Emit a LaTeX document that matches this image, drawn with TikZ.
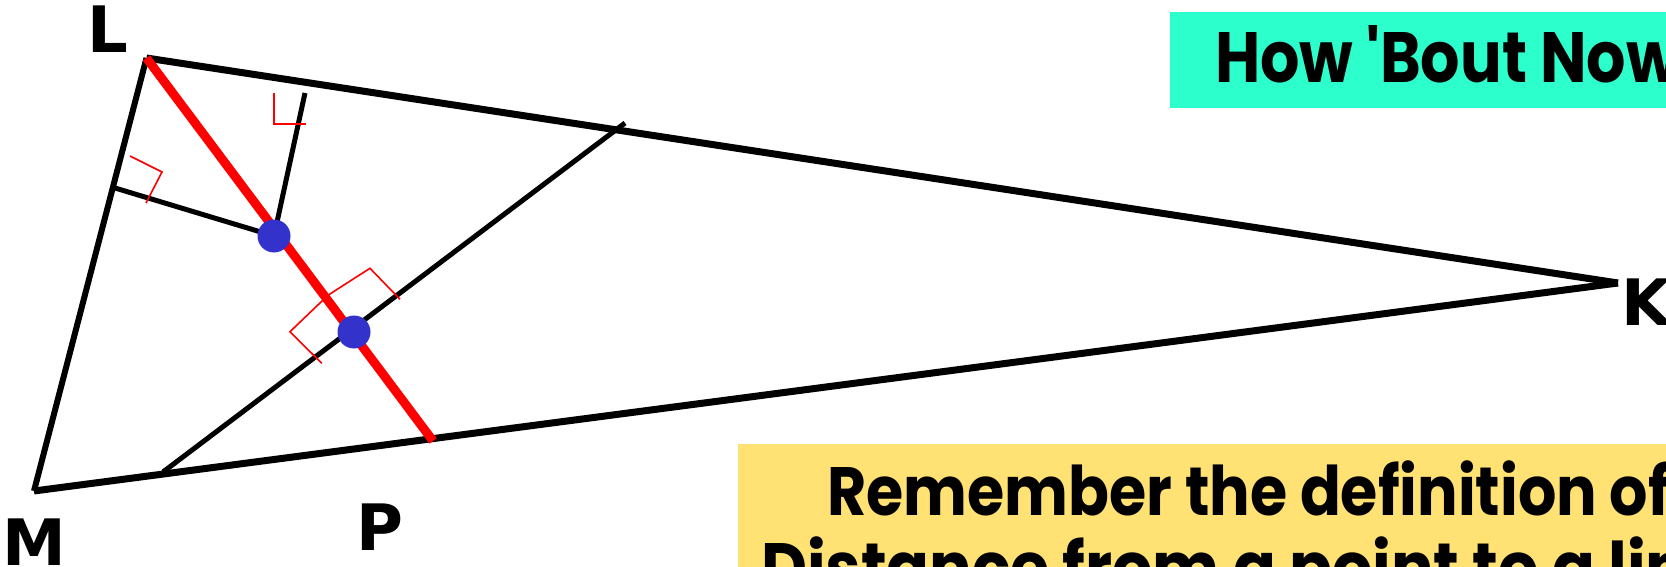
\documentclass[tikz,border=0pt]{standalone}
\usepackage{fontspec}
\usepackage{graphicx}
\newfontfamily\labelfam{DejaVu Sans}
\newfontfamily\comicfam{Poppins}
\definecolor{boxteal}{RGB}{45,255,204}
\definecolor{boxyellow}{RGB}{255,226,115}
\definecolor{dotblue}{RGB}{51,51,204}
\newlength\fitW
\newlength\fitH
% #1 font, #2 prefix, #3 full text, #4 prefix width (px), #5 cap height (px)
\newcommand\fittext[5]{%
  \settowidth\fitW{#1#2}\settoheight\fitH{#1H}%
  \pgfmathsetmacro\fitsx{#4/\fitW}\pgfmathsetmacro\fitsy{#5/\fitH}%
  \scalebox{\fitsx}[\fitsy]{#1#3}}
\newcommand\comicA{\comicfam\bfseries\fontsize{60}{60}\selectfont}
\tikzset{
  sideline/.style={line width=7pt, black},
  auxline/.style={line width=5pt, black},
  redline/.style={line width=9pt, red},
  rightmark/.style={line width=1.6pt, red},
  bluedot/.style={fill=dotblue},
  vlabel/.style={inner sep=0pt, anchor=base, font=\labelfam\bfseries\fontsize{64}{64}\selectfont},
  textline/.style={inner sep=0pt, anchor=base west}
}
\begin{document}
\begin{tikzpicture}[x=1pt, y=-1pt]
\useasboundingbox (0,0) rectangle (1666,567);
\clip (0,0) rectangle (1666,567);
% vertices and points
\coordinate (L) at (146.5,58);
\coordinate (M) at (34,491);
\coordinate (K) at (1618,283);
\coordinate (F) at (433,441);
\coordinate (A) at (115,188);
\coordinate (B) at (305,93);
\coordinate (C) at (163,472);
\coordinate (D) at (625,123);
\coordinate (O1) at (274,236);
\coordinate (O2) at (354,332);
% triangle sides
\draw[sideline] (L) -- (K);
\draw[sideline, line width=6pt] (L) -- (M);
\draw[sideline] (M) -- (K);
% auxiliary lines
\draw[auxline] (A) -- (O1);
\draw[auxline] (O1) -- (B);
\draw[auxline] (C) -- (D);
% red line
\draw[redline] (L) -- (F);
% right angle marks
\draw[rightmark] (274,93) -- (274,124) -- (306,124);
\draw[rightmark] (130,156) -- (162,172) -- (146,203);
\draw[rightmark] (400,299.3) -- (370,268.3) -- (328.3,295) -- (290,331.7) -- (321.7,363.3);
% dots
\fill[bluedot] (O1) circle[radius=16.5pt];
\fill[bluedot] (O2) circle[radius=16.5pt];
% labels
\node[vlabel] (lL) at (107.5,53) {L};
\node[vlabel] (lM) at (34,565) {M};
\node[vlabel] (lP) at (380,550) {P};
\node[vlabel] (lK) at (1646,325) {K};
% teal box
\fill[boxteal] (1170,12) rectangle (1700,108);
\node[textline] (how) at (1215,83) {\fittext{\comicA}{How 'Bout}{How 'Bout Now}{312}{50}};
% yellow box
\fill[boxyellow] (738,444) rectangle (1700,600);
\node[textline] (rem) at (827,515) {\fittext{\comicA}{Remember the definition}{Remember the definition of}{770}{48}};
\node[textline] (dist) at (761,591) {\fittext{\comicA}{Distance from a point to a}{Distance from a point to a line}{834}{48}};
\end{tikzpicture}
\end{document}
